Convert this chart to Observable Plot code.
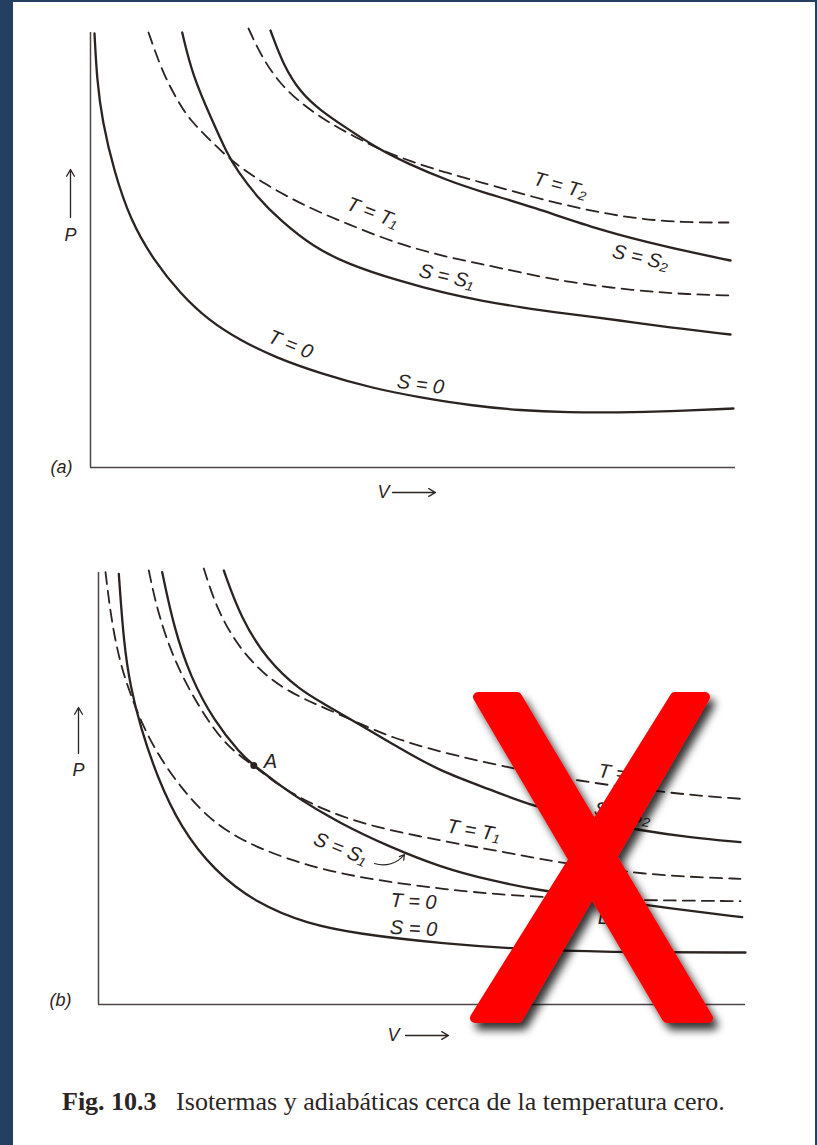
<!DOCTYPE html>
<html><head><meta charset="utf-8">
<script src="https://cdn.jsdelivr.net/npm/d3@7"></script>
<script src="https://cdn.jsdelivr.net/npm/@observablehq/plot@0.6"></script>
<style>
html,body{margin:0;padding:0;}
body{width:817px;height:1145px;background:#253f61;position:relative;overflow:hidden;}
#paper{position:absolute;left:13px;top:2px;width:802px;height:1143px;background:#fff;}
.panel{position:absolute;left:0;}
#caption{position:absolute;left:62px;top:1087px;font-family:"Liberation Serif",serif;font-size:26px;color:#2b2424;white-space:pre;}
#xmark{position:absolute;left:0;top:0;}
</style></head><body>
<div id="paper"></div>
<div id="pa" class="panel" style="top:0px"></div>
<div id="pb" class="panel" style="top:540px"></div>
<div id="caption"><b>Fig. 10.3</b>   Isotermas y adiabáticas cerca de la temperatura cero.</div>
<svg id="xmark" width="817" height="1145">
  <defs><filter id="sh" x="-20%" y="-20%" width="150%" height="150%"><feDropShadow dx="5" dy="7" stdDeviation="4.5" flood-color="#000" flood-opacity="0.8"/></filter></defs>
  <g filter="url(#sh)" fill="#ff0000" stroke="#ff0000" stroke-width="10" stroke-linejoin="round">
    <polygon points="478,697 517,697 708,1018 667,1018"/>
    <polygon points="675,697 705,697 518,1018 475,1018"/>
  </g>
</svg>
<script>
// ---------- Panel (a): curves as [V, P] ----------
const S0a = [[0.4,43.4],[0.65,38.7],[1.17,34.7],[2.33,29.7],[4.0,24.7],[6.33,20.7],[9.0,17.37],[11.83,14.7],[15.0,12.7],[18.5,11.0],[23.0,9.4],[28.3,7.9],[33.0,7.0],[38.0,6.2],[43.0,5.7],[47.7,5.5],[53.0,5.5],[57.7,5.6],[64.3,5.9]];
const S1a = [[9.17,43.5],[10.2,39.2],[12.17,34.7],[13.67,31.37],[14.67,29.7],[16.67,27.03],[19.0,24.7],[22.33,22.03],[25.67,20.37],[30.67,18.7],[35.67,17.37],[39.0,16.7],[43.0,16.0],[47.7,15.37],[53.0,14.7],[57.7,14.03],[64.0,13.3]];
const T1a = [[5.8,43.5],[7.2,39.5],[8.8,36.5],[10.0,34.7],[11.67,33.03],[14.0,30.7],[17.33,28.37],[21.67,26.03],[25.67,24.37],[30.67,22.37],[35.67,21.03],[39.0,20.37],[43.0,19.5],[47.7,18.53],[54.3,17.7],[60.0,17.3],[64.0,17.2]];
const S2a = [[18.0,43.7],[19.3,40.2],[21.0,37.5],[23.0,35.7],[25.5,34.0],[28.7,31.9],[31.7,30.4],[35.7,28.7],[39.0,27.6],[44.3,26.03],[51.0,23.7],[57.67,22.03],[64.0,20.7]];
const T2a = [[15.8,43.9],[17.2,40.9],[19.0,38.3],[21.2,36.3],[23.5,34.7],[26.0,33.3],[28.7,31.9],[32.0,30.6],[35.5,29.5],[39.0,28.53],[44.3,27.03],[49.3,25.8],[54.3,24.9],[59.3,24.5],[63.8,24.5]];
const labelsA = [["T = T\u2082",47,28.2,15],["S = S\u2082",55,21.0,13],["T = T\u2081",28.2,25.5,21],["S = S\u2081",35.6,19.1,13],["T = 0",20,12.3,22],["S = 0",33,8.3,8]];
const axisTextA = [["P",-2,23.2],["(a)",-2.9,0],["V",29.3,-2.5]];
const arrowsA = [[-2,25,-2,29.8],[30.2,-2.5,34.5,-2.5]];

// ---------- Panel (b) ----------
const T0b = [[0.7,43.23],[1.37,37.73],[2.37,33.4],[3.2,31.07],[4.2,28.4],[5.87,25.07],[8.2,21.73],[10.87,18.73],[14.2,16.4],[19.2,14.4],[24.2,13.07],[29.2,12.23],[34.2,11.57],[40.87,10.9],[50.2,10.5],[57.53,10.4],[64.2,10.33]];
const S0b = [[2.03,43.07],[2.53,36.07],[3.2,31.73],[4.2,27.73],[5.87,22.73],[8.2,17.73],[11.53,13.4],[15.87,10.07],[20.87,8.07],[25.87,7.07],[34.2,6.1],[44.2,5.4],[54.2,5.2],[64.7,5.2]];
const S1b = [[6.37,43.23],[7.53,37.73],[9.2,32.73],[11.53,28.4],[14.2,25.07],[15.53,23.9],[19.2,21.07],[24.2,18.07],[29.2,15.73],[34.2,13.73],[39.2,12.4],[44.2,11.4],[49.2,10.7],[57.53,9.57],[64.37,8.73]];
const T1b = [[5.03,43.4],[5.87,39.4],[7.53,34.4],[10.2,29.4],[12.87,25.73],[15.53,23.9],[18.2,21.73],[22.53,19.4],[27.53,17.73],[34.2,16.4],[40.2,15.3],[45.5,14.3],[50.2,13.6],[54.2,13.1],[59.2,12.75],[64.2,12.57]];
const S2b = [[12.53,43.4],[14.2,38.73],[16.87,34.4],[20.2,31.4],[22.5,30.1],[25.9,28.1],[30.2,25.6],[34.2,23.3],[39.2,21.5],[43.2,19.9],[49.2,18.4],[54.2,17.4],[59.2,16.7],[64.2,16.23]];
const T2b = [[10.53,43.6],[11.87,39.4],[14.2,35.4],[17.2,32.4],[20.2,30.7],[22.5,29.7],[25.9,28.2],[29.2,26.73],[34.2,25.23],[40.87,23.73],[47.53,22.4],[57.53,21.07],[64.2,20.57]];
const labelsB = [["A",17.2,24.3,0],["S = S\u2081",24.2,15.6,22],["T = T\u2081",37.5,17.4,10],["T = 0",31.5,10.3,3],["S = 0",31.5,7.6,3],["T = T\u2082",52.7,23.0,8],["S = S\u2082",52.4,19.1,10],["B",50.6,8.7,0]];
const pointsB = [[15.53,23.9]];
const axisTextB = [["P",-2,23.4],["(b)",-3.8,0.4],["V",29.5,-3.1]];
const arrowsB = [[-2,25.1,-2,29.7],[30.7,-3.1,35.0,-3.1]];
const pointerB = [[27.6,14.1,30.6,15.0]];

const ink = "#2b2320";
const solid = {stroke: ink, strokeWidth: 2.3, curve: "basis"};
const dashed = {stroke: ink, strokeWidth: 1.8, strokeDasharray: "12,7", curve: "basis"};
const px = d => d[0], py = d => d[1];
const txt = {fontSize: 20, fontStyle: "italic", fontFamily: "Liberation Sans, Arial, sans-serif", fill: ink};

function panel(o) {
  return Plot.plot({
    width: 817, height: 520,
    marginLeft: o.ml, marginRight: o.mr, marginTop: 32, marginBottom: o.mb,
    x: {domain: o.xd, axis: null},
    y: {domain: o.yd, axis: null},
    style: {background: "transparent", overflow: "visible"},
    marks: [
      Plot.ruleX([0], {stroke: "#4d4644", strokeWidth: 1.5}),
      Plot.ruleY([0], {stroke: "#4d4644", strokeWidth: 1.5}),
      ...o.solids.map(s => Plot.line(s, {x: px, y: py, ...solid})),
      ...o.dashes.map(s => Plot.line(s, {x: px, y: py, ...dashed})),
      Plot.text(o.labels, {x: d => d[1], y: d => d[2], text: d => d[0], rotate: d => d[3], ...txt}),
      Plot.text(o.axisText, {x: d => d[1], y: d => d[2], text: d => d[0], ...txt, fontSize: 18}),
      Plot.arrow(o.arrows, {x1: d => d[0], y1: d => d[1], x2: d => d[2], y2: d => d[3], stroke: ink, strokeWidth: 1.3, headLength: 9}),
      ...(o.extra || [])
    ]
  });
}

document.getElementById("pa").append(panel({
  ml: 90, mr: 82, mb: 53, xd: [0, 64.5], yd: [0, 43.5],
  solids: [S0a, S1a, S2a], dashes: [T1a, T2a],
  labels: labelsA, axisText: axisTextA, arrows: arrowsA
}));

document.getElementById("pb").append(panel({
  ml: 98, mr: 72, mb: 56, xd: [0, 64.7], yd: [0, 43.2],
  solids: [S0b, S1b, S2b], dashes: [T0b, T1b, T2b],
  labels: labelsB, axisText: axisTextB, arrows: arrowsB,
  extra: [
    Plot.dot(pointsB, {x: px, y: py, r: 3.5, fill: ink}),
    Plot.arrow(pointerB, {x1: d => d[0], y1: d => d[1], x2: d => d[2], y2: d => d[3], bend: -35, stroke: ink, strokeWidth: 1.2, headLength: 7})
  ]
}));
</script>
</body></html>
